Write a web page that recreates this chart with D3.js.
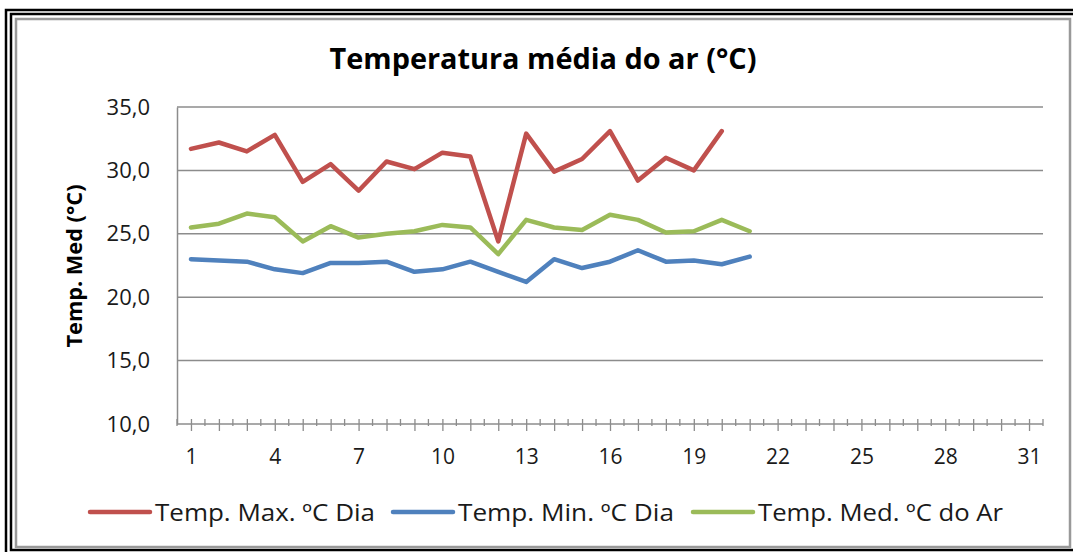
<!DOCTYPE html>
<html>
<head>
<meta charset="utf-8">
<script src="https://cdn.jsdelivr.net/npm/d3@7"></script>
<style>
  body { margin: 0; background: #fff; }
  svg text { font-family: "Open Sans", sans-serif; fill: #1a1a1a; }
</style>
</head>
<body>
<div id="chart"></div>
<script>
// dias do mes
var dias = d3.range(1, 32);
var xTickLabels = [1, 4, 7, 10, 13, 16, 19, 22, 25, 28, 31];
var yTicks = [10, 15, 20, 25, 30, 35];

var tempMax = [31.7, 32.2, 31.5, 32.8, 29.1, 30.5, 28.4, 30.7, 30.1, 31.4, 31.1, 24.4,
    32.9, 29.9, 30.9, 33.1, 29.2, 31.0, 30.0, 33.1];
var tempMin = [23.0, 22.9, 22.8, 22.2, 21.9, 22.7, 22.7, 22.8, 22.0, 22.2, 22.8, 22.0,
    21.2, 23.0, 22.3, 22.8, 23.7, 22.8, 22.9, 22.6, 23.2];
var tempMed = [25.5, 25.8, 26.6, 26.3, 24.4, 25.6, 24.7, 25.0, 25.2, 25.7, 25.5, 23.4,
    26.1, 25.5, 25.3, 26.5, 26.1, 25.1, 25.2, 26.1, 25.2];

var seriesNames = ['Temp. Max. ºC Dia', 'Temp. Min. ºC Dia', 'Temp. Med. ºC do Ar'];
var seriesColors = ['#C0504D', '#4F81BD', '#9BBB59'];
var seriesData = [tempMax, tempMin, tempMed];

var sWidth = 1073;
var sHeight = 552;

var plot = { left: 177, right: 1043, top: 107, bottom: 424 };

var svg = d3.select('#chart')
    .append('svg')
    .attr('width', sWidth)
    .attr('height', sHeight);

// moldura
svg.append('rect').attr('x', 6).attr('y', 10).attr('width', 1100).attr('height', 560)
    .attr('fill', 'none').attr('stroke', '#000').attr('stroke-width', 2.5);
svg.append('rect').attr('x', 11).attr('y', 14).attr('width', 1100).attr('height', 536)
    .attr('fill', 'none').attr('stroke', '#000').attr('stroke-width', 2.5);
svg.append('rect').attr('x', 16).attr('y', 19).attr('width', 1054).attr('height', 528)
    .attr('fill', 'none').attr('stroke', '#999').attr('stroke-width', 2.5);

var x = d3.scalePoint()
    .domain(dias)
    .range([plot.left, plot.right])
    .padding(0.5);

var y = d3.scaleLinear()
    .domain([10, 35])
    .range([plot.bottom, plot.top]);

// grade
svg.append('g')
    .selectAll('line')
    .data(yTicks.slice(1))
    .enter()
    .append('line')
    .attr('x1', plot.left)
    .attr('x2', plot.right)
    .attr('y1', d => y(d))
    .attr('y2', d => y(d))
    .attr('stroke', '#8c8c8c')
    .attr('stroke-width', 1.5);

// eixo y
var leftAxis = d3.axisLeft(y)
    .tickValues(yTicks)
    .tickSize(0)
    .tickPadding(27)
    .tickFormat(d => d3.format('.1f')(d).replace('.', ','));

var yAxis = svg.append('g')
    .attr('transform', `translate(${plot.left}, 0)`)
    .call(leftAxis);
yAxis.select('.domain').attr('stroke', '#8c8c8c').attr('stroke-width', 1.5);
yAxis.selectAll('text').style('font-size', '22px');

// eixo x
var step = x.step();
var minorTicks = [plot.left].concat(dias.map(d => x(d) + step / 2));

svg.append('g')
    .selectAll('line')
    .data(minorTicks)
    .enter()
    .append('line')
    .attr('x1', d => d)
    .attr('x2', d => d)
    .attr('y1', plot.bottom - 5)
    .attr('y2', plot.bottom + 2)
    .attr('stroke', '#8c8c8c')
    .attr('stroke-width', 1.3);

var bottomAxis = d3.axisBottom(x)
    .tickSizeInner(7)
    .tickSizeOuter(0)
    .tickPadding(18)
    .tickFormat(d => xTickLabels.indexOf(d) >= 0 ? d : '');

var xAxis = svg.append('g')
    .attr('transform', `translate(0, ${plot.bottom})`)
    .call(bottomAxis);
xAxis.select('.domain').attr('d', `M${plot.left},0H${plot.right}`)
    .attr('stroke', '#8c8c8c').attr('stroke-width', 1.5);
xAxis.selectAll('.tick line')
    .attr('y1', -5)
    .attr('stroke', '#8c8c8c')
    .attr('stroke-width', 1.3);
xAxis.selectAll('text').style('font-size', '21px');

// linhas
var line = d3.line()
    .x((d, i) => x(dias[i]))
    .y(d => y(d));

svg.append('g')
    .selectAll('path')
    .data(seriesData)
    .enter()
    .append('path')
    .attr('d', d => line(d))
    .attr('fill', 'none')
    .attr('stroke', (d, i) => seriesColors[i])
    .attr('stroke-width', 4.5)
    .attr('stroke-linejoin', 'round')
    .attr('stroke-linecap', 'round');

// titulo
svg.append('text')
    .attr('x', 543)
    .attr('y', 69)
    .attr('text-anchor', 'middle')
    .attr('textLength', 427)
    .attr('lengthAdjust', 'spacingAndGlyphs')
    .style('font-size', '28px')
    .style('font-weight', 'bold')
    .style('fill', '#000')
    .text('Temperatura média do ar (°C)');

svg.append('text')
    .attr('transform', 'translate(82, 266) rotate(-90)')
    .attr('text-anchor', 'middle')
    .attr('textLength', 163)
    .attr('lengthAdjust', 'spacingAndGlyphs')
    .style('font-size', '22px')
    .style('font-weight', 'bold')
    .style('fill', '#000')
    .text('Temp. Med (°C)');

// legenda
var legendX = [90, 393, 693];
var legendLen = [220, 216, 245];
var legend = svg.append('g')
    .selectAll('g')
    .data(seriesNames)
    .enter()
    .append('g')
    .attr('transform', (d, i) => `translate(${legendX[i]}, 512)`);

legend.append('line')
    .attr('x1', 0)
    .attr('x2', 60)
    .attr('stroke', (d, i) => seriesColors[i])
    .attr('stroke-width', 4.5)
    .attr('stroke-linecap', 'round');

legend.append('text')
    .attr('x', 65)
    .attr('y', 9)
    .attr('textLength', (d, i) => legendLen[i])
    .attr('lengthAdjust', 'spacingAndGlyphs')
    .style('font-size', '24px')
    .text(d => d);
</script>
</body>
</html>
